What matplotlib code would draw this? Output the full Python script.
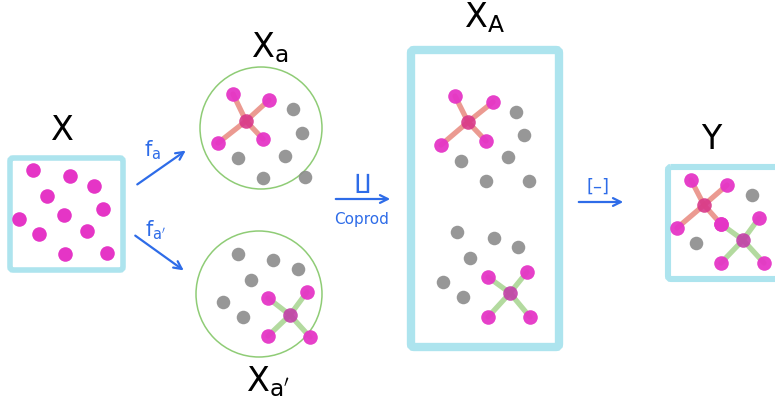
import matplotlib.pyplot as plt
from matplotlib.patches import Circle, FancyBboxPatch

# X : the plain set of points
x_set_x = [33, 70, 94, 47, 103, 64, 19, 39, 87, 65, 107]
x_set_y = [171, 177, 187, 197, 210, 216, 220, 235, 232, 255, 254]

# X_a : red star + grey points
xa_center = (246, 122)
xa_leaves_x = [233, 269, 218, 263]
xa_leaves_y = [95, 101, 144, 140]
xa_grey_x = [293, 302, 238, 285, 263, 305]
xa_grey_y = [110, 134, 159, 157, 179, 178]

# X_a' : green star + grey points
xb_center = (290, 316)
xb_leaves_x = [268, 307, 268, 310]
xb_leaves_y = [299, 293, 337, 338]
xb_grey_x = [238, 273, 298, 251, 223, 243]
xb_grey_y = [255, 261, 270, 281, 303, 318]

# X_A : coproduct, both copies stacked
xA_top_center = (468, 123)
xA_top_leaves_x = [455, 493, 441, 486]
xA_top_leaves_y = [97, 103, 146, 142]
xA_top_grey_x = [516, 524, 461, 508, 486, 529]
xA_top_grey_y = [113, 136, 162, 158, 182, 182]
xA_bot_center = (510, 294)
xA_bot_leaves_x = [488, 527, 488, 530]
xA_bot_leaves_y = [278, 273, 318, 318]
xA_bot_grey_x = [457, 494, 518, 470, 443, 463]
xA_bot_grey_y = [233, 239, 248, 259, 283, 298]

# Y : quotient, stars glued
y_red_center = (704, 206)
y_red_leaves_x = [691, 727, 677, 721]
y_red_leaves_y = [181, 186, 229, 225]
y_green_center = (743, 241)
y_green_leaves_x = [721, 759, 721, 764]
y_green_leaves_y = [225, 219, 264, 264]
y_grey_x = [752, 696]
y_grey_y = [196, 244]

PINK = '#e535c6'
GREY = '#8c8c8c'
CYAN = '#ade4ee'
RED_EDGE = '#e8897e'
GREEN_EDGE = '#a6d48e'
RED_MID = '#d9388a'
GREEN_MID = '#c23fa8'
CIRCLE = '#8fcc76'
BLUE = '#2e6ce8'

fig = plt.figure(figsize=(7.75, 4.10), dpi=100)
ax = fig.add_axes([0, 0, 1, 1])
ax.set_xlim(0, 775)
ax.set_ylim(410, 0)
ax.axis('off')


def star(center, lx, ly, edge_color, mid_color):
    for x, y in zip(lx, ly):
        ax.plot([center[0], x], [center[1], y], color=edge_color, lw=3.8,
                alpha=0.85, solid_capstyle='round', zorder=2)
    ax.scatter(lx, ly, s=110, color=PINK, alpha=0.95, lw=0, zorder=3)
    ax.scatter([center[0]], [center[1]], s=110, color=mid_color, alpha=0.9, lw=0, zorder=3)


def grey(xs, ys):
    ax.scatter(xs, ys, s=95, color=GREY, alpha=0.9, lw=0, zorder=3)


def box(x0, y0, x1, y1, lw):
    ax.add_patch(FancyBboxPatch((x0, y0), x1 - x0, y1 - y0,
                                boxstyle='round,pad=0,rounding_size=3',
                                fill=False, ec=CYAN, lw=lw, zorder=1))


# X
box(10, 159, 123, 271, 4.0)
ax.scatter(x_set_x, x_set_y, s=110, color=PINK, lw=0, zorder=3)
ax.text(62, 131, 'X', fontsize=24, ha='center', va='center')

# X_a
ax.add_patch(Circle((261, 129), 61, fill=False, ec=CIRCLE, lw=1.1))
star(xa_center, xa_leaves_x, xa_leaves_y, RED_EDGE, RED_MID)
grey(xa_grey_x, xa_grey_y)
ax.text(270, 48, r'$\mathsf{X_a}$', fontsize=24, ha='center', va='center')

# X_a'
ax.add_patch(Circle((259, 295), 63, fill=False, ec=CIRCLE, lw=1.1))
star(xb_center, xb_leaves_x, xb_leaves_y, GREEN_EDGE, GREEN_MID)
grey(xb_grey_x, xb_grey_y)
ax.text(268, 382, r"$\mathsf{X_{a'}}$", fontsize=24, ha='center', va='center')

# X_A
box(411, 51, 559, 348, 6.0)
star(xA_top_center, xA_top_leaves_x, xA_top_leaves_y, RED_EDGE, RED_MID)
grey(xA_top_grey_x, xA_top_grey_y)
star(xA_bot_center, xA_bot_leaves_x, xA_bot_leaves_y, GREEN_EDGE, GREEN_MID)
grey(xA_bot_grey_x, xA_bot_grey_y)
ax.text(484, 18, r'$\mathsf{X_A}$', fontsize=24, ha='center', va='center')

# Y
box(668, 168, 790, 280, 4.4)
star(y_green_center, y_green_leaves_x, y_green_leaves_y, GREEN_EDGE, GREEN_MID)
star(y_red_center, y_red_leaves_x, y_red_leaves_y, RED_EDGE, RED_MID)
grey(y_grey_x, y_grey_y)
ax.text(711, 140, 'Y', fontsize=24, ha='center', va='center')

# arrows
arrow = dict(arrowstyle='->', color=BLUE, lw=1.6, mutation_scale=14)
ax.annotate('', xy=(188, 150), xytext=(135, 187), arrowprops=arrow)
ax.annotate('', xy=(186, 273), xytext=(133, 235), arrowprops=arrow)
ax.annotate('', xy=(393, 200), xytext=(333, 200), arrowprops=arrow)
ax.annotate('', xy=(626, 203), xytext=(576, 203), arrowprops=arrow)
ax.text(153, 150, r'$\mathsf{f_a}$', fontsize=15, color=BLUE, ha='center', va='center')
ax.text(156, 230, r"$\mathsf{f_{a'}}$", fontsize=15, color=BLUE, ha='center', va='center')
ax.text(362, 183, '\u2210', fontsize=15, color=BLUE, ha='center', va='center')
ax.text(362, 220, 'Coprod', fontsize=11, color=BLUE, ha='center', va='center')
ax.text(598, 187, '[\u2013]', fontsize=13, color=BLUE, ha='center', va='center')

fig.savefig('out.png', dpi=100)
